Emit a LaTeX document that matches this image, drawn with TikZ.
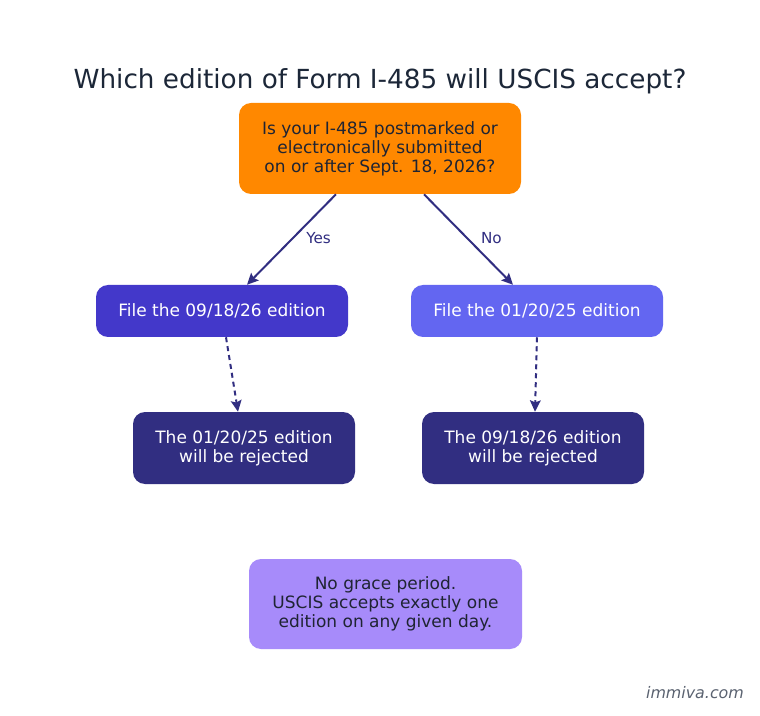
\documentclass[tikz,border=0pt]{standalone}
\usepackage{fontspec}
\setmainfont{DejaVu Sans}
\usepackage{xcolor}
\usetikzlibrary{arrows.meta}
\usetikzlibrary{calc}

\definecolor{askorange}{HTML}{FF8800}
\definecolor{yesblue}{HTML}{4338CA}
\definecolor{noblue}{HTML}{6366F1}
\definecolor{rejectblue}{HTML}{312E81}
\definecolor{notepurple}{HTML}{A78BFA}
\definecolor{titleink}{HTML}{1C2738}
\definecolor{darkink}{HTML}{1F2433}
\definecolor{markgray}{HTML}{5A6270}

\tikzset{
	box/.style={rounded corners=9pt, align=center, inner sep=0pt,
		font=\fontsize{12.75}{14.25}\selectfont},
	flow/.style={draw=rejectblue, line width=1.5pt,
		-{Stealth[length=8.5pt,width=8pt,inset=1.5pt,fill=rejectblue]}},
	lbl/.style={text=rejectblue, inner sep=0pt, font=\fontsize{11.4}{13}\selectfont},
}

\begin{document}
\begin{tikzpicture}[x=0.75pt,y=-0.75pt]

	\useasboundingbox[fill=white] (0,0) rectangle (760,716);

	\node[text=titleink, font=\fontsize{19.7}{23}\selectfont] (title) at (380,81)
		{Which edition of Form I-485 will USCIS accept?};

	\node[box, fill=askorange, text=darkink, minimum width=211.5pt, minimum height=68.25pt]
		(ask) at (380,148.5)
		{Is your I-485 postmarked or\\electronically submitted\\on or after Sept. 18, 2026?};

	\node[box, fill=yesblue, text=white, minimum width=189pt, minimum height=39pt]
		(fileyes) at (222,311) {File the 09/18/26 edition};
	\node[box, fill=noblue, text=white, minimum width=189pt, minimum height=39pt]
		(fileno) at (537,311) {File the 01/20/25 edition};

	\node[box, fill=rejectblue, text=white, minimum width=166.5pt, minimum height=54pt]
		(rejyes) at (244,448) {The 01/20/25 edition\\will be rejected};
	\node[box, fill=rejectblue, text=white, minimum width=166.5pt, minimum height=54pt]
		(rejno) at (533,448) {The 09/18/26 edition\\will be rejected};

	\node[box, fill=notepurple, text=darkink, minimum width=204.75pt, minimum height=67.5pt]
		(grace) at (385.5,604)
		{No grace period.\\USCIS accepts exactly one\\edition on any given day.};

	\node[text=markgray, font=\fontsize{11.9}{14}\selectfont\itshape] (mark) at (695,693) {immiva.com};

	% yes / no
	\draw[flow] ($(ask.south)+(-44,0)$) -- node[lbl, pos=0.48, right=9pt] {Yes} ($(fileyes.north)+(25,0)$);
	\draw[flow] ($(ask.south)+(44,0)$) -- node[lbl, pos=0.48, right=10pt] {No} ($(fileno.north)+(-24,0)$);

	% rejected editions
	\draw[flow, dash pattern=on 3.75pt off 3pt] ($(fileyes.south)+(4,0)$) -- ($(rejyes.north)+(-6,0)$);
	\draw[flow, dash pattern=on 3.75pt off 3pt] (fileno.south) -- ($(rejno.north)+(2,0)$);

\end{tikzpicture}
\end{document}
